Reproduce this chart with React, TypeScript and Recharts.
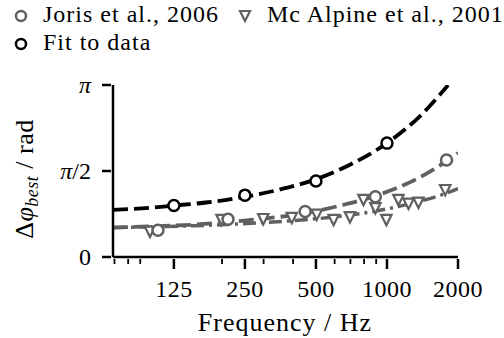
import React from 'react';
import { ComposedChart, Line, XAxis, YAxis } from 'recharts';

// frequencies in Hz, phase differences in rad
const fitFreq = [69, 100, 125, 175, 250, 350, 500, 700, 1000, 1400, 1816];
const fitCurve = [0.86, 0.9, 0.94, 1.0, 1.1, 1.23, 1.42, 1.69, 2.08, 2.6, 3.14];

const modelFreq = [125, 250, 500, 1000];
const modelVals = [0.94, 1.13, 1.39, 2.08];

const jorisFreq = [107, 212, 450, 893, 1788];
const jorisVals = [0.49, 0.69, 0.83, 1.1, 1.77];
const jorisFitFreq = [69, 100, 150, 200, 300, 450, 650, 900, 1300, 1800, 2000];
const jorisFitVals = [0.535, 0.56, 0.59, 0.63, 0.7, 0.8, 0.95, 1.12, 1.4, 1.76, 1.9];

const mcFreq = [99, 199, 299, 395, 504, 594, 697, 795, 893, 994, 1118, 1234, 1360, 1766];
const mcVals = [0.46, 0.675, 0.69, 0.71, 0.77, 0.675, 0.725, 1.04, 0.89, 0.675, 1.04, 0.97, 0.99, 1.22];
const mcFitFreq = [69, 100, 150, 200, 300, 450, 650, 900, 1300, 1800, 2000];
const mcFitVals = [0.54, 0.55, 0.57, 0.59, 0.63, 0.68, 0.75, 0.84, 0.99, 1.17, 1.25];

const majorTicks = [125, 250, 500, 1000, 2000];
const minorTicks = [70, 80, 90, 200, 300, 400, 600, 700, 800, 900];
const yTicks = [0, Math.PI / 2, Math.PI];
const yTickLabels = [
  <tspan>0</tspan>,
  <>
    <tspan fontStyle="italic">π</tspan>
    <tspan>/2</tspan>
  </>,
  <tspan fontStyle="italic">π</tspan>,
];

const FONT = "'Liberation Serif', serif";
const GRAY = '#606060';
const DARK = '#000000';

const zip = (fs: number[], vs: number[]) => fs.map((f, i) => ({ f, v: vs[i] }));

const circleDot = (color: string) => (p: any) => (
  <circle key={`c-${p.index}`} cx={p.cx} cy={p.cy} r={5.5} fill="#fff" stroke={color} strokeWidth={2.5} />
);

const triDot = (p: any) => {
  const s = 5.2;
  return (
    <polygon
      key={`t-${p.index}`}
      points={`${p.cx - s},${p.cy - s} ${p.cx + s},${p.cy - s} ${p.cx},${p.cy + s}`}
      fill="#fff"
      stroke={GRAY}
      strokeWidth={2.2}
    />
  );
};

const XTick = (props: any) => {
  const { x, y, payload } = props;
  const major = majorTicks.includes(payload.value);
  return (
    <g>
      <line x1={x} x2={x} y1={y} y2={y + (major ? 10 : 5)} stroke="#000" strokeWidth={major ? 2.5 : 1.8} />
      {major && (
        <text x={x} y={y + 38} textAnchor="middle" fontFamily={FONT} fontSize={24} letterSpacing={0.5} fill="#000">
          {payload.value}
        </text>
      )}
    </g>
  );
};

const YTick = (props: any) => {
  const { x, y, index } = props;
  return (
    <g>
      <line x1={x - 9} x2={x} y1={y} y2={y} stroke="#000" strokeWidth={2.5} />
      <text x={x - 20} y={y + 8} textAnchor="end" fontFamily={FONT} fontSize={24} fill="#000">
        {yTickLabels[index]}
      </text>
    </g>
  );
};

export default function App() {
  return (
    <div style={{ position: 'absolute', left: 0, top: 0, width: 504, height: 338, background: '#fff' }}>
      <ComposedChart width={504} height={338} margin={{ top: 85, right: 46, bottom: 0, left: 0 }}>
        <XAxis
          type="number"
          dataKey="f"
          scale="log"
          domain={[69, 2000]}
          allowDataOverflow
          ticks={[...minorTicks, ...majorTicks]}
          interval={0}
          tickSize={0}
          tickLine={false}
          tick={<XTick />}
          height={81}
          axisLine={{ stroke: '#000', strokeWidth: 2.5 }}
        />
        <YAxis
          type="number"
          domain={[0, Math.PI]}
          allowDataOverflow
          ticks={yTicks}
          interval={0}
          tickSize={0}
          tickLine={false}
          tick={<YTick />}
          width={113}
          axisLine={{ stroke: '#000', strokeWidth: 2.5 }}
        />
        <Line data={zip(fitFreq, fitCurve)} dataKey="v" type="monotone" stroke={DARK} strokeWidth={3.8} strokeDasharray="15 6" dot={false} isAnimationActive={false} />
        <Line data={zip(jorisFitFreq, jorisFitVals)} dataKey="v" type="monotone" stroke={GRAY} strokeWidth={3.8} strokeDasharray="15 6" dot={false} isAnimationActive={false} />
        <Line data={zip(mcFitFreq, mcFitVals)} dataKey="v" type="monotone" stroke={GRAY} strokeWidth={3.5} strokeDasharray="13 5 3 5" dot={false} isAnimationActive={false} />
        <Line data={zip(mcFreq, mcVals)} dataKey="v" stroke="none" dot={triDot} isAnimationActive={false} />
        <Line data={zip(jorisFreq, jorisVals)} dataKey="v" stroke="none" dot={circleDot(GRAY)} isAnimationActive={false} />
        <Line data={zip(modelFreq, modelVals)} dataKey="v" stroke="none" dot={circleDot(DARK)} isAnimationActive={false} />

        <text x={285} y={331} textAnchor="middle" fontFamily={FONT} fontSize={26} letterSpacing={1} fill="#000">
          Frequency / Hz
        </text>
        <text transform="translate(33,179) rotate(-90)" textAnchor="middle" fontFamily={FONT} fontSize={26} letterSpacing={0.5} fill="#000">
          Δ<tspan fontStyle="italic">φ</tspan>
          <tspan fontStyle="italic" fontSize={18} dy={5}>best</tspan>
          <tspan dy={-5}> / rad</tspan>
        </text>

        <circle cx={21} cy={16} r={5} fill="#fff" stroke={GRAY} strokeWidth={2.5} />
        <text x={43} y={22} fontFamily={FONT} fontSize={24} letterSpacing={1} fill="#000">Joris et al., 2006</text>
        <polygon points="240,11 250,11 245,21" fill="#fff" stroke={GRAY} strokeWidth={2.2} />
        <text x={267} y={22} fontFamily={FONT} fontSize={24} letterSpacing={1} fill="#000">Mc Alpine et al., 2001</text>
        <circle cx={21} cy={44} r={5} fill="#fff" stroke={DARK} strokeWidth={2.5} />
        <text x={43} y={50} fontFamily={FONT} fontSize={24} letterSpacing={1} fill="#000">Fit to data</text>
      </ComposedChart>
    </div>
  );
}
